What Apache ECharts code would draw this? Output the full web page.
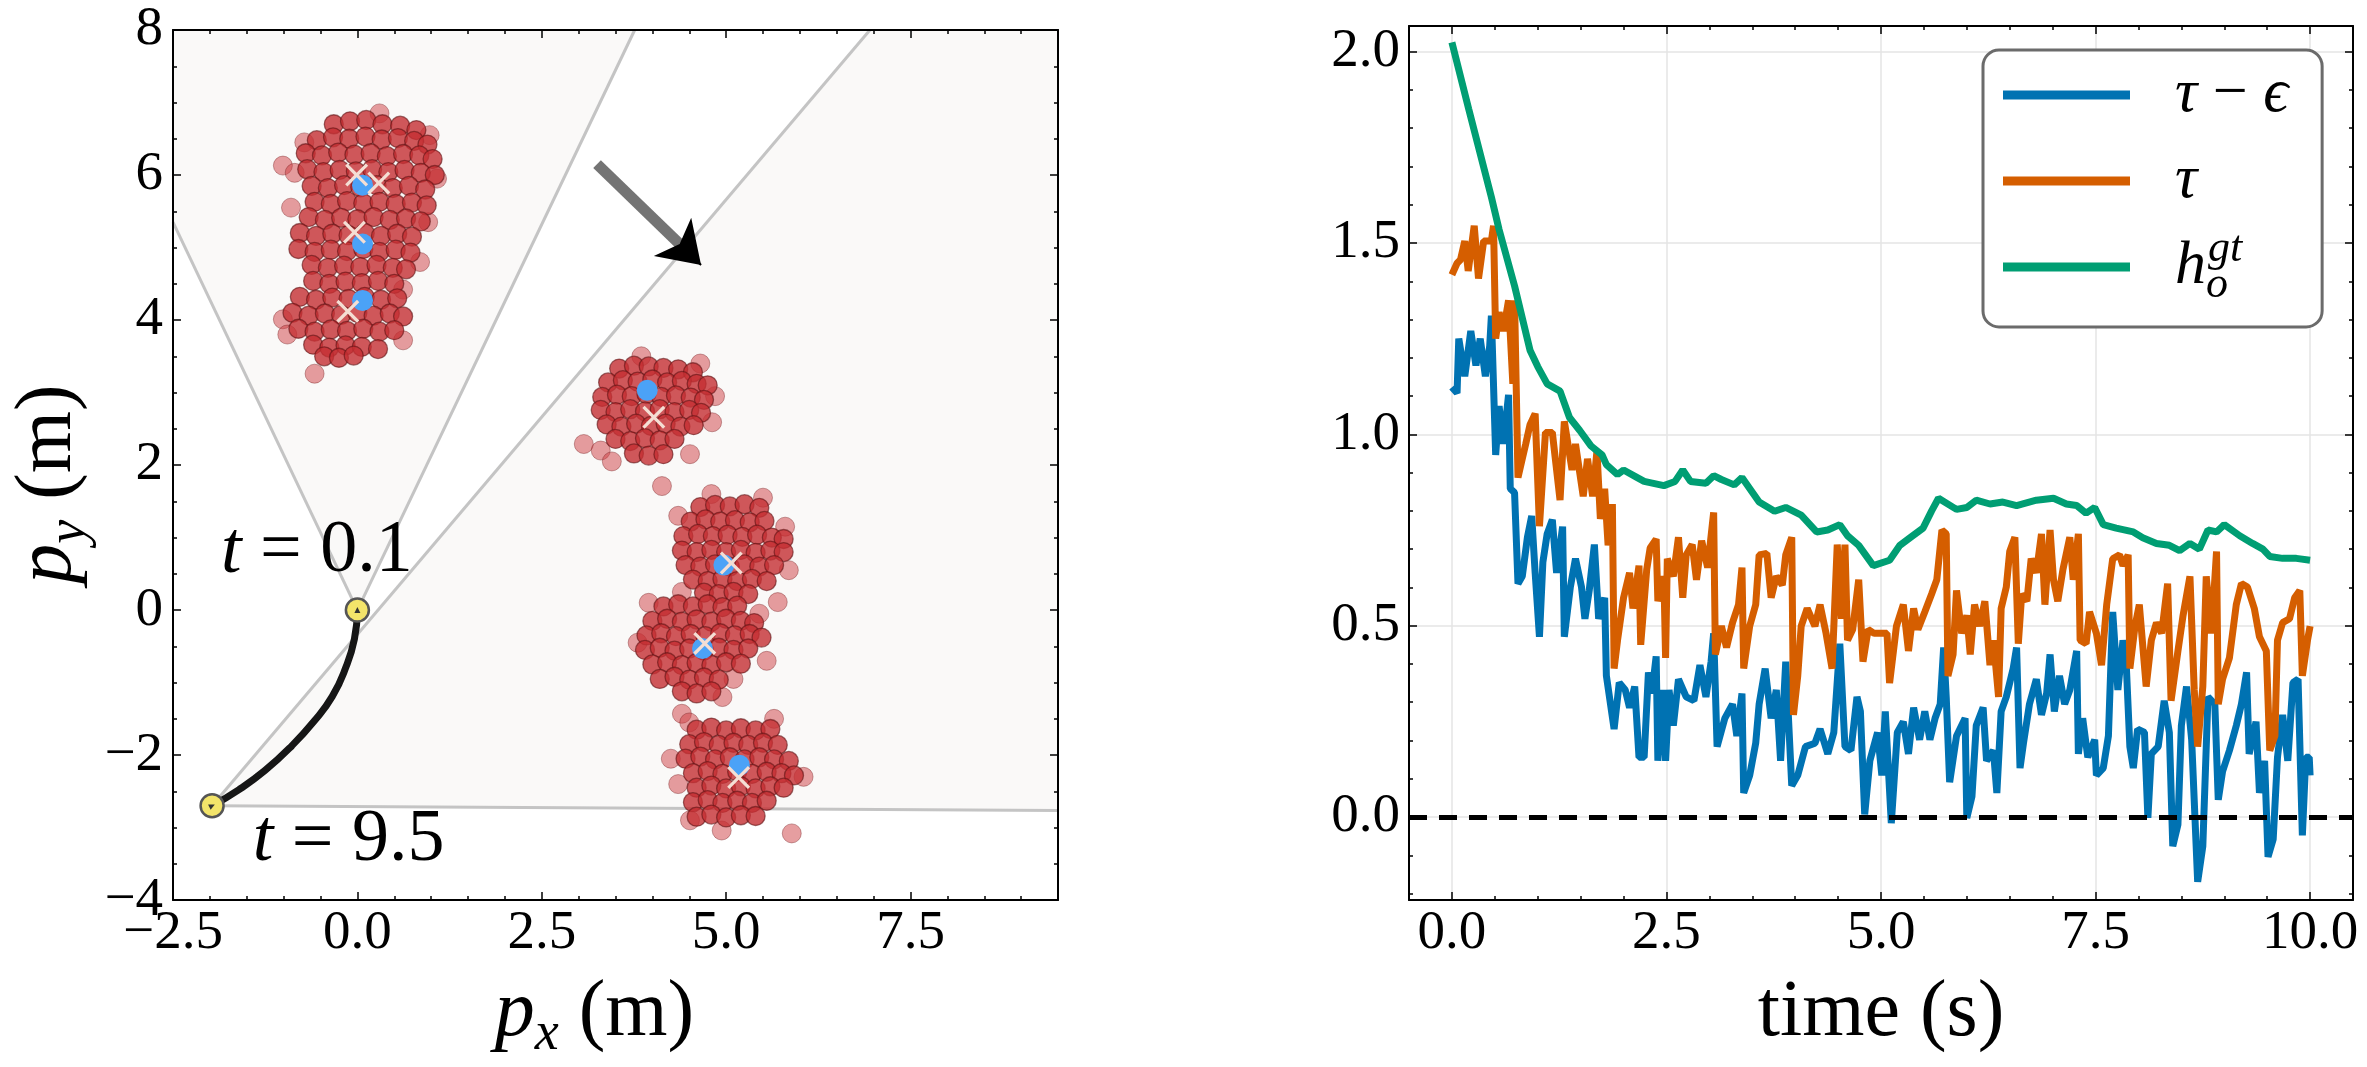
<!DOCTYPE html>
<html lang="en">
<head>
<meta charset="UTF-8">
<title>particles and bound</title>
<style>
    * { margin: 0; padding: 0; }
    html, body { background: #fff; }
    #chart { width: 2367px; height: 1067px; }
</style>
<script src="https://cdn.jsdelivr.net/npm/echarts@6.0.0/dist/echarts.min.js"></script>
</head>
<body>
<div id="chart"></div>
<script>
// ---------- left panel data (metres) ----------
// field-of-view cones, clipped to the plot box
var CONES = [
    [[0, 0], [-2.5, 5.35], [-2.5, 8], [3.76, 8]],
    [[-1.97, -2.70], [6.95, 8], [9.5, 8], [9.5, -2.765]]
];
var CONE_EDGES = [
    [[0, 0], [-2.5, 5.35]], [[0, 0], [3.76, 8]],
    [[-1.97, -2.70], [6.95, 8]], [[-1.97, -2.70], [9.5, -2.765]]
];
var TRAJECTORY = [[0, 0], [-0.04, -0.40], [-0.16, -0.80], [-0.34, -1.19], [-0.585, -1.53],
    [-0.887, -1.87], [-1.25, -2.21], [-1.61, -2.48], [-1.97, -2.70]];
var POSES = [[0, 0], [-1.97, -2.70]];
var HEADINGS = [90, 25];
var POSE_LABELS = [{ at: [-1.85, 0.80], time: '0.1' }, { at: [-1.42, -3.18], time: '9.5' }];
var ARROW_SHAFT = [[3.25, 6.15], [4.45, 4.97]];
var ARROW_HEAD = [[4.50, 4.92], [4.66, 4.76]];

var PARTICLES_CORE = [
    [-0.32,6.70],[-0.10,6.74],[0.12,6.76],[0.34,6.70],[0.58,6.68],[0.80,6.62],
    [-0.55,6.48],[-0.33,6.52],[-0.11,6.50],[0.11,6.53],[0.33,6.49],[0.55,6.51],[0.77,6.47],[0.95,6.42],
    [-0.70,6.30],[-0.48,6.27],[-0.26,6.31],[-0.04,6.28],[0.18,6.30],[0.40,6.26],[0.62,6.29],[0.84,6.27],[1.02,6.22],
    [-0.68,6.08],[-0.46,6.04],[-0.24,6.07],[-0.02,6.05],[0.20,6.08],[0.42,6.04],[0.64,6.07],[0.86,6.03],[1.05,6.00],
    [-0.62,5.85],[-0.40,5.82],[-0.18,5.86],[0.04,5.83],[0.26,5.86],[0.48,5.82],[0.70,5.85],[0.92,5.80],
    [-0.58,5.63],[-0.36,5.60],[-0.14,5.64],[0.08,5.61],[0.30,5.63],[0.52,5.60],[0.74,5.62],[0.94,5.58],
    [-0.66,5.42],[-0.44,5.38],[-0.22,5.41],[0.00,5.39],[0.22,5.42],[0.44,5.38],[0.66,5.40],[0.86,5.36],
    [-0.78,5.20],[-0.56,5.16],[-0.34,5.19],[-0.12,5.17],[0.10,5.20],[0.32,5.16],[0.54,5.19],[0.74,5.15],
    [-0.80,4.98],[-0.58,4.94],[-0.36,4.97],[-0.14,4.95],[0.08,4.98],[0.30,4.94],[0.52,4.97],[0.72,4.93],
    [-0.62,4.76],[-0.40,4.72],[-0.18,4.75],[0.04,4.73],[0.26,4.76],[0.48,4.72],[0.66,4.70],
    [-0.60,4.54],[-0.38,4.50],[-0.16,4.53],[0.06,4.51],[0.28,4.54],[0.50,4.50],
    [-0.78,4.32],[-0.56,4.28],[-0.34,4.31],[-0.12,4.29],[0.10,4.32],[0.32,4.28],[0.54,4.30],
    [-0.88,4.10],[-0.66,4.06],[-0.44,4.09],[-0.22,4.07],[0.00,4.10],[0.22,4.06],[0.44,4.09],[0.62,4.05],
    [-0.80,3.88],[-0.58,3.84],[-0.36,3.87],[-0.14,3.85],[0.08,3.88],[0.30,3.84],[0.50,3.86],
    [-0.60,3.66],[-0.38,3.62],[-0.16,3.65],[0.06,3.63],[0.28,3.60],
    [-0.45,3.50],[-0.25,3.48],[-0.05,3.51],
    [3.55,3.33],[3.75,3.37],[3.95,3.36],[4.15,3.34],[4.35,3.32],[4.55,3.28],
    [3.40,3.14],[3.60,3.17],[3.80,3.15],[4.00,3.18],[4.20,3.14],[4.40,3.16],[4.60,3.12],[4.75,3.10],
    [3.32,2.94],[3.52,2.97],[3.72,2.95],[3.92,2.98],[4.12,2.94],[4.32,2.96],[4.52,2.93],[4.70,2.90],
    [3.30,2.76],[3.50,2.73],[3.70,2.77],[3.90,2.74],[4.10,2.77],[4.30,2.73],[4.50,2.76],[4.66,2.72],
    [3.38,2.56],[3.58,2.53],[3.78,2.57],[3.98,2.54],[4.18,2.57],[4.38,2.53],[4.56,2.55],
    [3.50,2.36],[3.70,2.33],[3.90,2.37],[4.10,2.34],[4.30,2.36],
    [3.75,2.16],[3.95,2.13],[4.15,2.15],
    [4.65,1.42],[4.85,1.45],[5.05,1.43],[5.25,1.46],[5.45,1.41],
    [4.52,1.22],[4.72,1.25],[4.92,1.22],[5.12,1.24],[5.32,1.21],[5.52,1.23],
    [4.42,1.02],[4.62,1.05],[4.82,1.02],[5.02,1.04],[5.22,1.01],[5.42,1.04],[5.62,1.00],[5.78,0.98],
    [4.40,0.82],[4.60,0.80],[4.80,0.83],[5.00,0.80],[5.20,0.83],[5.40,0.79],[5.60,0.82],[5.78,0.80],
    [4.45,0.62],[4.65,0.60],[4.85,0.63],[5.05,0.60],[5.25,0.63],[5.45,0.60],[5.65,0.62],
    [4.55,0.42],[4.75,0.40],[4.95,0.43],[5.15,0.40],[5.35,0.43],[5.55,0.40],
    [4.70,0.24],[4.90,0.22],[5.10,0.25],[5.30,0.22],
    [4.15,0.05],[4.35,0.08],[4.55,0.05],[4.75,0.08],[4.95,0.04],[5.15,0.06],
    [4.00,-0.15],[4.20,-0.12],[4.40,-0.16],[4.60,-0.13],[4.80,-0.16],[5.00,-0.12],[5.20,-0.15],[5.38,-0.18],
    [3.92,-0.35],[4.12,-0.32],[4.32,-0.36],[4.52,-0.33],[4.72,-0.36],[4.92,-0.32],[5.12,-0.35],[5.32,-0.33],[5.48,-0.38],
    [3.90,-0.55],[4.10,-0.52],[4.30,-0.56],[4.50,-0.53],[4.70,-0.56],[4.90,-0.52],[5.10,-0.55],[5.30,-0.53],
    [4.00,-0.75],[4.20,-0.72],[4.40,-0.76],[4.60,-0.73],[4.80,-0.76],[5.00,-0.72],[5.20,-0.74],
    [4.10,-0.95],[4.30,-0.92],[4.50,-0.96],[4.70,-0.93],[4.90,-0.96],
    [4.40,-1.12],[4.60,-1.15],[4.80,-1.12],
    [4.60,-1.65],[4.80,-1.62],[5.00,-1.66],[5.20,-1.63],[5.40,-1.66],[5.60,-1.64],
    [4.50,-1.85],[4.70,-1.82],[4.90,-1.86],[5.10,-1.83],[5.30,-1.86],[5.50,-1.83],[5.70,-1.86],
    [4.45,-2.05],[4.65,-2.02],[4.85,-2.06],[5.05,-2.03],[5.25,-2.06],[5.45,-2.03],[5.65,-2.06],[5.85,-2.08],
    [4.55,-2.25],[4.75,-2.22],[4.95,-2.26],[5.15,-2.23],[5.35,-2.26],[5.55,-2.23],[5.75,-2.25],[5.92,-2.28],
    [4.60,-2.45],[4.80,-2.42],[5.00,-2.46],[5.20,-2.43],[5.40,-2.46],[5.60,-2.43],[5.78,-2.45],
    [4.55,-2.65],[4.75,-2.62],[4.95,-2.66],[5.15,-2.63],[5.35,-2.66],[5.55,-2.63],
    [4.60,-2.85],[4.80,-2.82],[5.00,-2.86],[5.20,-2.83],[5.40,-2.84]
];
var PARTICLES_FRINGE = [
    [-1.01,6.13],[-0.85,6.03],[-0.58,3.26],[0.96,5.35],[0.62,4.42],[-1.01,4.01],[0.98,6.55],
    [-0.72,6.45],[1.08,5.95],[-0.90,5.55],[0.85,4.80],[-0.95,3.80],[0.62,3.72],[0.30,6.85],
    [3.07,2.29],[4.13,1.71],[4.81,2.59],[4.51,2.15],[3.30,2.20],[4.85,2.95],[3.45,2.05],[3.85,3.50],[4.65,3.40],
    [5.70,0.11],[4.35,1.30],[5.80,1.15],[4.40,0.25],[5.85,0.55],[4.80,1.60],[5.50,1.55],
    [4.40,-1.43],[3.80,-0.45],[5.55,-0.70],[5.45,-0.05],[3.95,0.10],[4.95,-1.20],[5.10,-0.95],
    [5.89,-3.08],[4.51,-2.90],[4.94,-3.04],[4.25,-2.05],[6.05,-2.30],[4.35,-2.40],[5.65,-1.50],[4.50,-1.55]
];
var TRUE_POS = [[0.07,5.86],[0.07,5.05],[0.07,4.27],[3.93,3.03],[4.97,0.62],[4.68,-0.53],[5.18,-2.14]];
var EST_POS = [[-0.01,6.00],[0.29,5.89],[-0.04,5.21],[-0.13,4.12],[4.02,2.66],[5.07,0.65],[4.71,-0.46],[5.17,-2.31]];

// ---------- right panel data: [time (s), value] ----------
var TAU_MINUS_EPS = [[0,1.123],[0.06,1.108],[0.08,1.25],[0.15,1.152],[0.22,1.27],[0.28,1.18],[0.33,1.25],[0.39,1.152],[0.44,1.23],[0.46,1.31],[0.51,0.946],[0.55,1.074],[0.60,0.975],[0.66,1.103],[0.68,0.858],[0.73,0.848],[0.77,0.61],[0.82,0.629],[0.88,0.731],[0.93,0.787],[0.97,0.638],[1.02,0.471],[1.06,0.666],[1.11,0.74],[1.17,0.777],[1.22,0.638],[1.29,0.759],[1.31,0.471],[1.38,0.601],[1.44,0.675],[1.51,0.601],[1.55,0.518],[1.60,0.592],[1.66,0.712],[1.71,0.518],[1.78,0.573],[1.80,0.369],[1.89,0.23],[1.95,0.351],[2.02,0.332],[2.07,0.286],[2.13,0.341],[2.18,0.156],[2.24,0.156],[2.29,0.378],[2.33,0.323],[2.38,0.42],[2.40,0.147],[2.45,0.332],[2.49,0.147],[2.53,0.332],[2.58,0.239],[2.64,0.36],[2.73,0.314],[2.82,0.304],[2.89,0.397],[2.96,0.314],[3.02,0.406],[3.05,0.48],[3.09,0.184],[3.18,0.258],[3.27,0.295],[3.32,0.212],[3.38,0.323],[3.40,0.063],[3.47,0.109],[3.54,0.193],[3.58,0.295],[3.65,0.388],[3.72,0.258],[3.78,0.332],[3.83,0.147],[3.89,0.406],[3.96,0.082],[4.03,0.109],[4.12,0.184],[4.23,0.193],[4.29,0.23],[4.38,0.165],[4.45,0.221],[4.52,0.453],[4.58,0.184],[4.65,0.174],[4.72,0.314],[4.76,0.276],[4.81,0.007],[4.87,0.147],[4.96,0.221],[5.01,0.109],[5.05,0.276],[5.12,-0.016],[5.19,0.221],[5.26,0.249],[5.32,0.165],[5.38,0.286],[5.45,0.202],[5.51,0.276],[5.57,0.202],[5.63,0.258],[5.69,0.295],[5.73,0.443],[5.76,0.314],[5.80,0.091],[5.88,0.212],[5.98,0.258],[6.00,-0.002],[6.06,0.054],[6.11,0.239],[6.19,0.286],[6.23,0.147],[6.31,0.174],[6.35,0.063],[6.40,0.276],[6.46,0.314],[6.54,0.388],[6.58,0.443],[6.62,0.128],[6.66,0.193],[6.73,0.295],[6.81,0.36],[6.87,0.267],[6.93,0.323],[6.97,0.425],[7.02,0.276],[7.08,0.369],[7.14,0.295],[7.20,0.332],[7.28,0.434],[7.30,0.165],[7.35,0.258],[7.41,0.156],[7.49,0.202],[7.51,0.109],[7.59,0.128],[7.65,0.212],[7.70,0.536],[7.76,0.332],[7.82,0.462],[7.86,0.388],[7.90,0.184],[7.94,0.128],[7.99,0.23],[8.07,0.221],[8.11,-0.002],[8.15,0.165],[8.23,0.184],[8.30,0.304],[8.36,0.221],[8.40,-0.076],[8.46,-0.02],[8.50,0.239],[8.56,0.341],[8.62,0.202],[8.69,-0.169],[8.75,-0.076],[8.81,0.314],[8.89,0.295],[8.93,0.045],[8.98,0.119],[9.06,0.174],[9.14,0.239],[9.20,0.295],[9.26,0.378],[9.29,0.165],[9.37,0.249],[9.41,0.063],[9.47,0.147],[9.51,-0.104],[9.57,-0.058],[9.62,0.156],[9.68,0.267],[9.74,0.147],[9.80,0.351],[9.86,0.36],[9.91,-0.048],[9.95,0.156],[9.99,0.156],[10.0,0.109]];
var TAU = [[0,1.417],[0.06,1.447],[0.10,1.456],[0.15,1.505],[0.19,1.427],[0.26,1.545],[0.31,1.407],[0.37,1.505],[0.46,1.505],[0.485,1.545],[0.51,1.25],[0.55,1.319],[0.60,1.27],[0.66,1.35],[0.71,1.132],[0.73,1.35],[0.77,0.887],[0.82,0.936],[0.86,0.975],[0.91,1.025],[0.97,1.054],[1.02,0.76],[1.09,1.005],[1.17,1.005],[1.26,0.828],[1.31,1.034],[1.40,0.907],[1.44,0.975],[1.53,0.838],[1.58,0.936],[1.64,0.838],[1.69,0.956],[1.73,0.779],[1.78,0.858],[1.82,0.71],[1.87,0.818],[1.89,0.388],[1.93,0.462],[2.00,0.573],[2.07,0.638],[2.11,0.545],[2.18,0.657],[2.20,0.45],[2.27,0.647],[2.31,0.703],[2.38,0.726],[2.40,0.564],[2.47,0.629],[2.49,0.416],[2.51,0.675],[2.58,0.629],[2.64,0.731],[2.69,0.573],[2.73,0.685],[2.80,0.712],[2.85,0.62],[2.91,0.722],[2.98,0.652],[3.05,0.796],[3.07,0.425],[3.14,0.499],[3.20,0.443],[3.27,0.508],[3.34,0.555],[3.38,0.652],[3.40,0.388],[3.47,0.499],[3.54,0.555],[3.58,0.685],[3.67,0.689],[3.72,0.573],[3.78,0.629],[3.85,0.606],[3.89,0.685],[3.96,0.731],[3.98,0.267],[4.03,0.369],[4.07,0.499],[4.14,0.545],[4.23,0.499],[4.29,0.555],[4.36,0.48],[4.43,0.388],[4.49,0.712],[4.54,0.518],[4.58,0.712],[4.61,0.462],[4.67,0.49],[4.74,0.62],[4.79,0.406],[4.85,0.49],[4.92,0.48],[5.0,0.48],[5.07,0.48],[5.10,0.35],[5.18,0.499],[5.26,0.555],[5.32,0.434],[5.38,0.545],[5.43,0.49],[5.51,0.536],[5.59,0.583],[5.65,0.62],[5.71,0.75],[5.76,0.74],[5.78,0.369],[5.84,0.425],[5.88,0.592],[5.94,0.48],[6.00,0.527],[6.04,0.425],[6.09,0.555],[6.15,0.499],[6.21,0.564],[6.27,0.397],[6.31,0.462],[6.37,0.314],[6.40,0.545],[6.46,0.601],[6.50,0.694],[6.56,0.731],[6.60,0.453],[6.64,0.583],[6.70,0.564],[6.75,0.675],[6.81,0.638],[6.87,0.74],[6.91,0.555],[6.97,0.75],[7.01,0.62],[7.06,0.564],[7.12,0.647],[7.20,0.731],[7.24,0.62],[7.30,0.74],[7.32,0.462],[7.39,0.453],[7.43,0.536],[7.51,0.48],[7.57,0.397],[7.63,0.555],[7.70,0.675],[7.78,0.685],[7.82,0.657],[7.88,0.685],[7.90,0.388],[7.96,0.499],[8.01,0.555],[8.09,0.341],[8.15,0.462],[8.21,0.508],[8.27,0.48],[8.34,0.61],[8.38,0.304],[8.46,0.434],[8.52,0.527],[8.60,0.629],[8.65,0.332],[8.69,0.184],[8.75,0.341],[8.79,0.629],[8.85,0.48],[8.91,0.694],[8.93,0.295],[8.98,0.36],[9.06,0.416],[9.14,0.555],[9.20,0.61],[9.27,0.601],[9.35,0.545],[9.41,0.471],[9.49,0.434],[9.53,0.174],[9.59,0.212],[9.62,0.462],[9.68,0.508],[9.76,0.518],[9.82,0.573],[9.88,0.592],[9.91,0.369],[9.97,0.462],[10.0,0.499]];
var H_GT = [[0,2.024],[0.196,1.85],[0.46,1.62],[0.55,1.535],[0.73,1.388],[0.91,1.22],[1.0,1.177],[1.11,1.132],[1.26,1.113],[1.37,1.044],[1.49,1.01],[1.62,0.97],[1.75,0.946],[1.80,0.921],[1.93,0.895],[2.0,0.907],[2.16,0.887],[2.24,0.877],[2.47,0.866],[2.60,0.877],[2.69,0.907],[2.78,0.877],[2.96,0.872],[3.05,0.892],[3.14,0.882],[3.29,0.868],[3.38,0.887],[3.58,0.823],[3.76,0.799],[3.89,0.809],[4.07,0.789],[4.25,0.745],[4.38,0.75],[4.52,0.764],[4.61,0.735],[4.74,0.71],[4.91,0.657],[5.10,0.671],[5.22,0.71],[5.34,0.73],[5.49,0.755],[5.59,0.80],[5.67,0.833],[5.88,0.804],[6.0,0.809],[6.11,0.828],[6.27,0.818],[6.42,0.823],[6.58,0.814],[6.81,0.828],[7.01,0.833],[7.16,0.818],[7.28,0.814],[7.39,0.794],[7.49,0.809],[7.59,0.764],[7.74,0.755],[7.94,0.745],[8.05,0.73],[8.21,0.715],[8.36,0.71],[8.48,0.696],[8.60,0.715],[8.71,0.70],[8.81,0.75],[8.91,0.745],[9.00,0.764],[9.18,0.735],[9.33,0.715],[9.45,0.70],[9.53,0.681],[9.68,0.676],[9.84,0.676],[10.0,0.671]];

// ---------- ticks ----------
var LX_MAJOR = [-2.5, 0, 2.5, 5, 7.5];
var LX_MINOR = [-2, -1.5, -1, -0.5, 0.5, 1, 1.5, 2, 3, 3.5, 4, 4.5, 5.5, 6, 6.5, 7, 8, 8.5, 9];
var LY_MAJOR = [-4, -2, 0, 2, 4, 6, 8];
var LY_MINOR = [-3.5, -3, -2.5, -1.5, -1, -0.5, 0.5, 1, 1.5, 2.5, 3, 3.5, 4.5, 5, 5.5, 6.5, 7, 7.5];
var RX_MAJOR = [0, 2.5, 5, 7.5, 10];
var RX_MINOR = [0.5, 1, 1.5, 2, 3, 3.5, 4, 4.5, 5.5, 6, 6.5, 7, 8, 8.5, 9, 9.5];
var RY_MAJOR = [0, 0.5, 1, 1.5, 2];
var RY_MINOR = [-0.2, -0.1, 0.1, 0.2, 0.3, 0.4, 0.6, 0.7, 0.8, 0.9, 1.1, 1.2, 1.3, 1.4, 1.6, 1.7, 1.8, 1.9];

var FONT = "'Liberation Serif', 'DejaVu Serif', serif";
var BLUE = '#0072B2', ORANGE = '#D55E00', GREEN = '#009E73';

function signed(digits) {
    return function (v) {
        var s = Math.abs(v).toFixed(digits);
        return v < 0 ? '\u2212' + s : s;
    };
}

// one value axis; majors carry the line and labels, minors only short ticks
function axis(grid, pos, min, max, ticks, len, o) {
    o = o || {};
    return {
        type: 'value', gridIndex: grid, position: pos, min: min, max: max, z: o.z || 0,
        axisLine: { show: !!o.line, onZero: false, lineStyle: { color: '#000', width: 2 } },
        axisTick: { show: true, inside: true, length: len, customValues: ticks, lineStyle: { color: '#000', width: 1.5 } },
        axisLabel: o.labels ? {
            show: true, customValues: o.labels, formatter: o.fmt, margin: o.margin,
            color: '#000', fontFamily: FONT, fontSize: 55
        } : { show: false },
        splitLine: { show: !!o.split, lineStyle: { color: '#e4e4e4', width: 1.5 } },
        minorTick: { show: false },
        name: o.name || '', nameLocation: 'middle', nameGap: o.nameGap || 0,
        nameTextStyle: o.nameStyle
    };
}

var nameStyle = function (pad) {
    return {
        fontFamily: FONT, fontSize: 80, color: '#000', lineHeight: 96, padding: pad,
        rich: {
            it: { fontFamily: FONT, fontStyle: 'italic', fontSize: 80, lineHeight: 96 },
            sub: { fontFamily: FONT, fontStyle: 'italic', fontSize: 54, lineHeight: 54, verticalAlign: 'bottom' }
        }
    };
};

var LZ = 50;
var xAxes = [
    axis(0, 'bottom', -2.5, 9.5, LX_MAJOR, 8, { line: true, z: LZ, labels: LX_MAJOR, fmt: signed(1), margin: 6,
        name: '{it|p}{sub|x} (m)', nameGap: 55, nameStyle: nameStyle([0, 42, 0, 0]) }),
    axis(0, 'bottom', -2.5, 9.5, LX_MINOR, 4, { z: LZ }),
    axis(0, 'top', -2.5, 9.5, LX_MAJOR, 8, { line: true, z: LZ }),
    axis(0, 'top', -2.5, 9.5, LX_MINOR, 4, { z: LZ }),
    axis(1, 'bottom', -0.5, 10.5, RX_MAJOR, 8, { line: true, split: true, labels: RX_MAJOR, fmt: signed(1), margin: 6,
        name: 'time (s)', nameGap: 55, nameStyle: nameStyle([0, 0, 0, 0]) }),
    axis(1, 'bottom', -0.5, 10.5, RX_MINOR, 4, {}),
    axis(1, 'top', -0.5, 10.5, RX_MAJOR, 8, { line: true }),
    axis(1, 'top', -0.5, 10.5, RX_MINOR, 4, {})
];
var yAxes = [
    axis(0, 'left', -4, 8, LY_MAJOR, 8, { line: true, z: LZ, labels: LY_MAJOR, fmt: signed(0), margin: 10,
        name: '{it|p}{sub|y} (m)', nameGap: 76, nameStyle: nameStyle([0, 38, 0, 0]) }),
    axis(0, 'left', -4, 8, LY_MINOR, 4, { z: LZ }),
    axis(0, 'right', -4, 8, LY_MAJOR, 8, { line: true, z: LZ }),
    axis(0, 'right', -4, 8, LY_MINOR, 4, { z: LZ }),
    axis(1, 'left', -0.217, 2.067, RY_MAJOR, 8, { line: true, split: true, labels: RY_MAJOR, fmt: signed(1), margin: 9 }),
    axis(1, 'left', -0.217, 2.067, RY_MINOR, 4, {}),
    axis(1, 'right', -0.217, 2.067, RY_MAJOR, 8, { line: true }),
    axis(1, 'right', -0.217, 2.067, RY_MINOR, 4, {})
];

var L = { xAxisIndex: 0, yAxisIndex: 0 };
var R = { xAxisIndex: 4, yAxisIndex: 4 };
function on(side, s) { return Object.assign({}, side, s); }

var CROSS = 'path://M0,1L1,0L5,4L9,0L10,1L6,5L10,9L9,10L5,6L1,10L0,9L4,5Z';

var series = [
    on(L, {
        type: 'custom', z: 1, silent: true,
        data: CONES.map(function (c) { return c[0]; }),
        renderItem: function (params, api) {
            var pts = CONES[params.dataIndex].map(function (p) { return api.coord(p); });
            return { type: 'polygon', shape: { points: pts }, style: { fill: '#faf9f8' } };
        }
    }),
    on(L, {
        type: 'lines', coordinateSystem: 'cartesian2d', z: 2, silent: true,
        data: CONE_EDGES.map(function (e) { return { coords: e }; }),
        lineStyle: { color: '#c4c4c4', width: 3, opacity: 1 }
    }),
    on(L, {
        type: 'line', z: 3, smooth: true, showSymbol: false, symbol: 'none', data: TRAJECTORY,
        lineStyle: { color: '#161616', width: 7 }
    }),
    on(L, {
        type: 'scatter', z: 4, data: POSES, symbolSize: 23,
        itemStyle: { color: '#f3e46a', borderColor: '#555', borderWidth: 2.5, opacity: 1 }
    }),
    on(L, {
        type: 'scatter', z: 4, symbol: 'triangle', symbolSize: 6,
        data: POSES.map(function (p, i) { return { value: p, symbolRotate: HEADINGS[i] - 90 }; }),
        itemStyle: { color: '#333', opacity: 1 }
    }),
    on(L, {
        type: 'scatter', z: 5, data: PARTICLES_FRINGE, symbolSize: 19,
        itemStyle: { color: 'rgba(205,62,66,0.5)', borderColor: 'rgba(120,30,32,0.4)', borderWidth: 1, opacity: 1 }
    }),
    on(L, {
        type: 'scatter', z: 6, data: PARTICLES_CORE, symbolSize: 19,
        itemStyle: { color: 'rgba(196,46,50,0.8)', borderColor: 'rgba(95,18,20,0.6)', borderWidth: 1.3, opacity: 1 }
    }),
    on(L, {
        type: 'scatter', z: 7, data: TRUE_POS, symbolSize: 21,
        itemStyle: { color: '#4ba2f7', opacity: 1 }
    }),
    on(L, {
        type: 'scatter', z: 8, data: EST_POS, symbol: CROSS, symbolSize: 23,
        itemStyle: { color: '#f4ded4', opacity: 1 }
    }),
    on(L, {
        type: 'lines', coordinateSystem: 'cartesian2d', z: 9, silent: true,
        data: [{ coords: ARROW_SHAFT }], lineStyle: { color: '#747474', width: 11, opacity: 1 }
    }),
    on(L, {
        type: 'lines', coordinateSystem: 'cartesian2d', z: 9, silent: true,
        data: [{ coords: ARROW_HEAD }], symbol: ['none', 'arrow'], symbolSize: 40,
        lineStyle: { color: '#000', width: 2, opacity: 1 }
    }),
    on(L, {
        type: 'scatter', z: 10, symbolSize: 0, silent: true,
        itemStyle: { opacity: 1 },
        data: POSE_LABELS.map(function (d) { return { value: d.at, time: d.time }; }),
        label: {
            show: true, position: 'right', distance: 0, color: '#000',
            fontFamily: FONT, fontSize: 74,
            formatter: function (p) { return '{it|t} = ' + p.data.time; },
            rich: { it: { fontFamily: FONT, fontStyle: 'italic', fontSize: 74, color: '#000' } }
        }
    }),
    on(R, {
        type: 'line', name: 'tauEps', data: TAU_MINUS_EPS, showSymbol: false, symbol: 'none',
        color: BLUE, lineStyle: { color: BLUE, width: 7 }, z: 3
    }),
    on(R, {
        type: 'line', name: 'tau', data: TAU, showSymbol: false, symbol: 'none',
        color: ORANGE, lineStyle: { color: ORANGE, width: 7 }, z: 4
    }),
    on(R, {
        type: 'line', name: 'hgt', data: H_GT, showSymbol: false, symbol: 'none',
        color: GREEN, lineStyle: { color: GREEN, width: 7 }, z: 5,
        markLine: {
            silent: true, symbol: 'none', label: { show: false },
            lineStyle: { color: '#000', width: 5, type: [18, 12] },
            data: [{ yAxis: 0 }]
        }
    })
];

var LEGEND_TEXT = {
    tauEps: '{m|\u03c4} \u2212 {m|\u03f5}',
    tau: '{m|\u03c4}',
    hgt: '{m|h}{sub|o}{sup|gt}'
};

var chart = echarts.init(document.getElementById('chart'));
chart.setOption({
    animation: false,
    backgroundColor: '#fff',
    grid: [
        { left: 171, top: 30, width: 887, height: 888 },
        { left: 1409, top: 26, width: 944, height: 891 }
    ],
    xAxis: xAxes,
    yAxis: yAxes,
    legend: {
        data: ['tauEps', 'tau', 'hgt'], orient: 'vertical', left: 1983, top: 50,
        icon: 'rect', itemWidth: 127, itemHeight: 9, itemGap: 6,
        padding: [5, 34, 20, 20], backgroundColor: '#fff',
        borderColor: '#6b6b6b', borderWidth: 3, borderRadius: 16,
        selectedMode: false,
        formatter: function (n) { return LEGEND_TEXT[n]; },
        textStyle: {
            fontFamily: FONT, fontSize: 62, color: '#000', lineHeight: 80, padding: [0, 0, 0, 40],
            rich: {
                m: { fontFamily: FONT, fontStyle: 'italic', fontSize: 62, lineHeight: 80 },
                sub: { fontFamily: FONT, fontStyle: 'italic', fontSize: 44, lineHeight: 44, verticalAlign: 'bottom', width: 2 },
                sup: { fontFamily: FONT, fontStyle: 'italic', fontSize: 44, lineHeight: 44, verticalAlign: 'top' }
            }
        }
    },
    series: series
});
</script>
</body>
</html>
